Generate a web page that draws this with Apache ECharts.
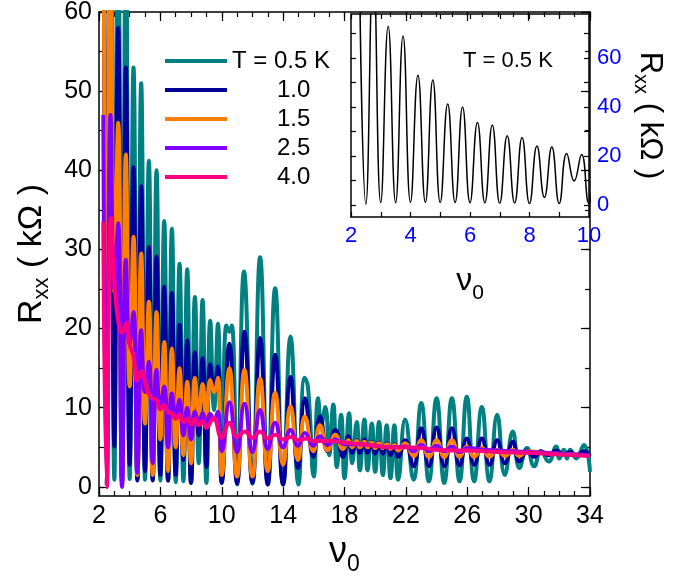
<!DOCTYPE html>
<html>
<head>
<meta charset="utf-8">
<script src="https://cdn.jsdelivr.net/npm/echarts@6/dist/echarts.min.js"></script>
<style>html,body{margin:0;padding:0;background:#fff}#main{width:690px;height:580px}</style>
</head>
<body>
<div id="main"></div>
<script>
// data: [nu0, Rxx (kOhm)] at peaks / minima
var t05 = [[2.28,100],[2.5,0.2],[2.75,100],[3.0,0.9],[3.25,73],[3.5,0.9],[3.75,69],[4.0,1.0],[4.25,53],[4.5,1.0],[4.75,51],[5.0,0.9],[5.25,41.2],[5.5,0.9],[5.75,40],[6.0,0.8],[6.25,33.6],[6.5,0.8],[6.75,32.6],[7.0,0.6],[7.25,28.2],[7.5,0.7],[7.75,27.5],[8.0,0.5],[8.25,24.0],[8.5,3.0],[8.75,23.6],[9.0,0.5],[9.25,21.0],[9.5,9.7],[9.75,20.6],[10.0,0.5],[10.3,20.4],[10.5,19.6],[10.65,20.4],[11.0,0.3],[11.45,27.2],[12.0,0.4],[12.5,29.0],[13.0,0.3],[13.48,25.1],[14.0,0.3],[14.48,19.0],[15.0,0.3],[15.4,13.8],[15.62,12.6],[16.0,1.3],[16.28,11.2],[16.5,8.0],[16.75,10.1],[17.0,4.0],[17.27,10.4],[17.5,2.5],[17.78,9.1],[18.0,1.1],[18.3,9.3],[18.5,3.0],[18.8,8.2],[19.0,2.1],[19.3,8.5],[19.5,2.1],[19.78,8.0],[20.0,1.9],[20.25,8.2],[20.5,1.5],[20.75,7.8],[21.0,1.1],[21.25,7.8],[21.5,0.9],[21.95,8.5],[22.5,0.9],[23.0,10.6],[23.5,0.7],[24.0,11.2],[24.5,0.5],[25.0,11.2],[25.5,0.7],[25.97,11.4],[26.45,0.7],[26.95,10.1],[27.45,0.7],[27.95,9.1],[28.45,1.5],[28.97,7.0],[29.4,2.4],[29.9,4.9],[30.36,2.6],[30.8,4.5],[31.3,3.2],[31.8,5.1],[32.0,3.6],[32.3,4.7],[32.5,3.6],[32.7,4.7],[33.1,3.6],[33.6,5.3],[34.0,1.9]];
var t10 = [[2.28,95],[2.5,0.4],[2.75,95],[3.0,5.1],[3.25,58],[3.5,0.5],[3.75,53],[4.0,2.8],[4.25,40.4],[4.5,0.8],[4.75,38],[5.0,2.0],[5.25,30.3],[5.5,0.8],[5.75,29.1],[6.0,1.5],[6.25,25.3],[6.5,0.8],[6.75,24.5],[7.0,1.5],[7.25,20.5],[7.5,3.4],[7.75,18.5],[8.0,0.5],[8.25,17.0],[8.5,6.5],[8.75,16.3],[9.0,2.5],[9.25,15.5],[9.5,12.5],[9.75,15.2],[10.0,0.5],[10.5,18.1],[11.0,0.4],[11.48,19.6],[12.0,0.5],[12.5,18.8],[13.0,0.3],[13.48,16.7],[14.0,0.3],[14.48,13.9],[14.97,2.4],[15.42,11.2],[15.97,3.8],[16.4,8.9],[16.9,4.5],[17.4,7.2],[17.9,3.8],[18.25,6.4],[18.5,4.3],[18.8,5.9],[19.0,4.3],[19.3,6.0],[19.5,4.3],[19.78,5.7],[20.0,4.2],[20.25,5.6],[20.5,4.2],[20.75,5.5],[21.0,4.0],[21.25,5.4],[21.5,3.8],[21.95,5.9],[22.5,2.6],[23.0,7.4],[23.5,2.6],[24.0,7.5],[24.5,2.6],[25.0,7.4],[25.5,2.7],[25.97,6.1],[26.45,2.8],[26.95,6.1],[27.45,2.8],[27.95,5.9],[28.45,3.0],[28.97,5.7],[29.4,3.2],[29.9,4.6],[30.36,3.8],[30.8,4.5],[31.3,4.0],[31.8,4.6],[32.3,4.1],[32.7,4.4],[33.1,4.0],[33.6,4.5],[34.0,3.9]];
var t15 = [[2.28,95],[2.5,0.5],[2.75,80],[3.0,24.7],[3.25,46],[3.5,0.8],[3.75,42],[4.0,12.7],[4.25,31.6],[4.5,1.5],[4.75,29.5],[5.0,8.0],[5.25,23.4],[5.5,1.5],[5.75,22.1],[6.0,6.0],[6.25,18.3],[6.5,2.0],[6.75,17.5],[7.0,5.0],[7.25,15.0],[7.5,4.0],[7.75,13.3],[8.0,3.0],[8.25,13.8],[8.5,9.0],[8.75,13.0],[9.0,8.5],[9.25,13.5],[9.5,12.0],[9.75,13.8],[10.0,1.5],[10.5,15.0],[11.0,1.3],[11.48,14.8],[12.0,1.3],[12.5,13.7],[13.0,2.0],[13.48,11.9],[14.0,2.8],[14.48,10.2],[14.97,3.4],[15.42,8.9],[15.97,4.5],[16.4,7.8],[16.9,4.6],[17.4,6.6],[17.9,4.8],[18.25,5.9],[18.5,5.0],[18.8,5.8],[19.0,5.0],[19.3,5.7],[19.5,5.0],[19.78,5.6],[20.0,4.9],[20.25,5.5],[20.5,4.9],[20.75,5.4],[21.0,4.8],[21.25,5.3],[21.5,4.6],[21.95,5.5],[22.5,3.9],[23.0,5.9],[23.5,3.8],[24.0,5.9],[24.5,3.8],[25.0,5.9],[25.5,3.8],[25.97,5.1],[26.45,3.8],[26.95,4.9],[27.45,3.8],[27.95,4.7],[28.45,3.9],[28.97,4.7],[29.4,3.9],[29.9,4.5],[31.0,4.3],[32.0,4.2],[33.0,4.1],[34.0,4.0]];
var t25 = [[2.28,47],[2.5,0],[2.75,47],[3.0,25],[3.25,33.3],[3.5,0],[3.75,28.7],[4.0,18],[4.25,22.1],[4.5,1.8],[4.75,19.8],[5.0,12],[5.25,15.8],[5.5,3],[5.75,14.8],[6.0,10],[6.25,12.7],[6.5,5],[6.75,11.8],[7.0,9],[7.25,11.0],[7.5,6.5],[7.75,10.0],[8.0,6.0],[8.25,9.5],[8.5,8.0],[8.75,9.3],[9.0,7.5],[9.25,9.2],[9.5,8.5],[9.75,9.5],[10.0,4.5],[10.5,10.7],[11.0,4.4],[11.48,10.5],[12.0,4.4],[12.5,9.7],[13.0,4.8],[13.48,8.1],[14.0,5.0],[14.48,7.2],[14.97,5.2],[15.42,6.8],[15.97,5.2],[16.4,6.4],[16.9,5.3],[17.4,6.0],[18.0,5.4],[19.0,5.4],[20.0,5.2],[21.0,5.0],[22.0,5.1],[22.5,4.5],[23.0,5.3],[23.5,4.5],[24.0,5.2],[24.5,4.5],[25.0,5.1],[25.5,4.4],[26.0,4.9],[27.0,4.7],[28.0,4.6],[29.0,4.5],[30.0,4.4],[32.0,4.2],[34.0,4.0]];
var t40 = [[2.28,33.5],[2.5,0],[2.78,34],[3.0,26],[3.25,21],[3.5,19.5],[3.8,20.7],[4.0,18],[4.25,16.5],[4.5,13.5],[4.78,14.6],[5.1,12.5],[5.4,11.3],[5.75,11.0],[6.0,9.8],[6.25,10.3],[6.5,9.4],[6.75,9.3],[7.0,8.6],[7.25,9.1],[7.5,8.2],[7.75,8.6],[8.0,7.9],[8.25,8.6],[8.5,7.8],[8.75,8.3],[9.0,7.5],[9.45,8.7],[10.0,6.2],[10.5,8.1],[11.0,6.3],[11.5,7.0],[12.0,6.2],[12.5,7.0],[13.0,6.1],[13.5,6.6],[14.0,6.0],[14.5,6.3],[15.0,5.9],[15.5,6.1],[16.0,5.8],[17.0,5.8],[18.0,5.6],[19.0,5.4],[20.0,5.2],[21.0,5.0],[22.0,5.0],[23.0,4.9],[24.0,4.7],[25.0,4.6],[26.0,4.6],[28.0,4.4],[30.0,4.3],[32.0,4.1],[34.0,3.9]];

var names = ['T = 0.5 K', '1.0', '1.5', '2.5', '4.0'];
var colors = ['#008080', '#000099', '#ff8000', '#8000ff', '#ff0080'];
var curves = [t05, t10, t15, t25, t40];

var xMajor = [2, 6, 10, 14, 18, 22, 26, 30, 34];
var yMajor = [0, 10, 20, 30, 40, 50, 60];
var yMinor = [0, 5, 10, 15, 20, 25, 30, 35, 40, 45, 50, 55, 60];
var insetXLabels = [2, 4, 6, 8, 10];
var insetYLabels = [0, 20, 40, 60];
var insetYTicks = [0, 10, 20, 30, 40, 50, 60, 70];

var font = 'Liberation Sans, Arial, sans-serif';
var black = '#000';
var blue = '#0000ff';

var myChart = echarts.init(document.getElementById('main'));

function ax(o) {
    var base = {
        type: 'value',
        axisLine: { show: true, onZero: false, lineStyle: { color: black, width: 1.5 } },
        axisTick: { show: true, inside: true, length: 5, lineStyle: { color: black, width: 1.2 } },
        axisLabel: { show: false },
        splitLine: { show: false }
    };
    return echarts.util.merge(base, o, true);
}

// fixed rectangles, no automatic shrinking for labels
var mainGrid = { left: 99, right: 100, top: 12, bottom: 84, outerBoundsMode: 'none' };
var insetGrid = { left: 351, right: 101, top: 14, bottom: 363, outerBoundsMode: 'none' };

// subscripts: padding on top pushes the small text down
var nameRich = {
    r: { fontSize: 34, fontFamily: font, color: black },
    s: { fontSize: 22, fontFamily: font, color: black, padding: [20, 0, 0, 0] }
};
var nameRichInset = {
    r: { fontSize: 31, fontFamily: font, color: black },
    s: { fontSize: 20, fontFamily: font, color: black, padding: [18, 0, 0, 0] }
};

var option = {
    backgroundColor: '#fff',
    animation: false,
    grid: [
        echarts.util.extend({}, mainGrid),
        echarts.util.extend({}, mainGrid),
        echarts.util.extend({}, insetGrid)
    ],
    xAxis: [
        ax({ gridIndex: 0, position: 'bottom', min: 2, max: 34, interval: 1,
            axisLabel: { show: true, customValues: xMajor, fontSize: 25, fontFamily: font, color: black, margin: 8 },
            name: '{n|ν}{s|0}', nameLocation: 'middle', nameGap: 30,
            nameTextStyle: { rich: { n: { fontSize: 36, fontFamily: font, color: black }, s: { fontSize: 23, fontFamily: font, color: black, padding: [26, 0, 0, 0] } } } }),
        ax({ gridIndex: 0, position: 'top', min: 2, max: 34, interval: 1 }),
        ax({ gridIndex: 1, position: 'bottom', min: 2, max: 34, axisLine: { show: false },
            axisTick: { customValues: xMajor, length: 9 } }),
        ax({ gridIndex: 1, position: 'top', min: 2, max: 34, axisLine: { show: false },
            axisTick: { customValues: xMajor, length: 9 } }),
        ax({ gridIndex: 2, position: 'bottom', min: 2, max: 10, interval: 1,
            axisLabel: { show: true, customValues: insetXLabels, fontSize: 22, fontFamily: font, color: blue, margin: 8 },
            name: '{n|ν}{s|0}', nameLocation: 'middle', nameGap: 42,
            nameTextStyle: { rich: { n: { fontSize: 32, fontFamily: font, color: black }, s: { fontSize: 21, fontFamily: font, color: black, padding: [24, 0, 0, 0] } } } }),
        ax({ gridIndex: 2, position: 'top', min: 2, max: 10, interval: 1 })
    ],
    yAxis: [
        ax({ gridIndex: 0, position: 'left', min: -1.15, max: 60,
            axisTick: { customValues: yMinor },
            axisLabel: { show: true, customValues: yMajor, fontSize: 25, fontFamily: font, color: black, margin: 7 },
            name: '{r|R}{s|xx}{r| ( kΩ )}', nameLocation: 'middle', nameGap: 46, nameRotate: 90,
            nameTextStyle: { rich: nameRich } }),
        ax({ gridIndex: 0, position: 'right', min: -1.15, max: 60, axisTick: { customValues: yMinor } }),
        ax({ gridIndex: 1, position: 'left', min: -1.15, max: 60, axisLine: { show: false },
            axisTick: { customValues: yMajor, length: 9 } }),
        ax({ gridIndex: 1, position: 'right', min: -1.15, max: 60, axisLine: { show: false },
            axisTick: { customValues: yMajor, length: 9 } }),
        ax({ gridIndex: 2, position: 'left', min: -5, max: 78, axisTick: { customValues: insetYTicks } }),
        ax({ gridIndex: 2, position: 'right', min: -5, max: 78, axisTick: { customValues: insetYTicks },
            axisLabel: { show: true, customValues: insetYLabels, fontSize: 22, fontFamily: font, color: blue, margin: 8 },
            name: '{r|R}{s|xx}{r| ( kΩ )}', nameLocation: 'middle', nameGap: 42, nameRotate: -90,
            nameTextStyle: { rich: nameRichInset } })
    ],
    legend: {
        orient: 'vertical',
        left: 165,
        top: 49,
        padding: 0,
        icon: 'rect',
        itemWidth: 62,
        itemHeight: 4,
        itemGap: 5,
        data: names,
        textStyle: {
            fontSize: 24, fontFamily: font, color: black, lineHeight: 24,
            rich: { v: { fontSize: 24, fontFamily: font, color: black, padding: [0, 0, 0, 45] } }
        },
        formatter: function (n) { return n.charAt(0) === 'T' ? n : '{v|' + n + '}'; }
    },
    graphic: [{
        type: 'text', left: 463, top: 50,
        style: { text: 'T = 0.5 K', fontSize: 22, fontFamily: font, fill: black }
    }],
    series: []
};

curves.forEach(function (d, i) {
    option.series.push({
        name: names[i],
        type: 'line',
        xAxisIndex: 0,
        yAxisIndex: 0,
        data: d,
        smooth: 0.5,
        symbol: 'none',
        clip: true,
        lineStyle: { color: colors[i], width: 4 },
        itemStyle: { color: colors[i] },
        z: 2 + i
    });
});

// inset: the 0.5 K trace on a wider scale
option.series.push({
    name: 'inset',
    type: 'line',
    xAxisIndex: 4,
    yAxisIndex: 4,
    data: t05,
    smooth: 0.5,
    symbol: 'none',
    clip: true,
    lineStyle: { color: black, width: 1.5 },
    z: 10
});

myChart.setOption(option);
</script>
</body>
</html>
